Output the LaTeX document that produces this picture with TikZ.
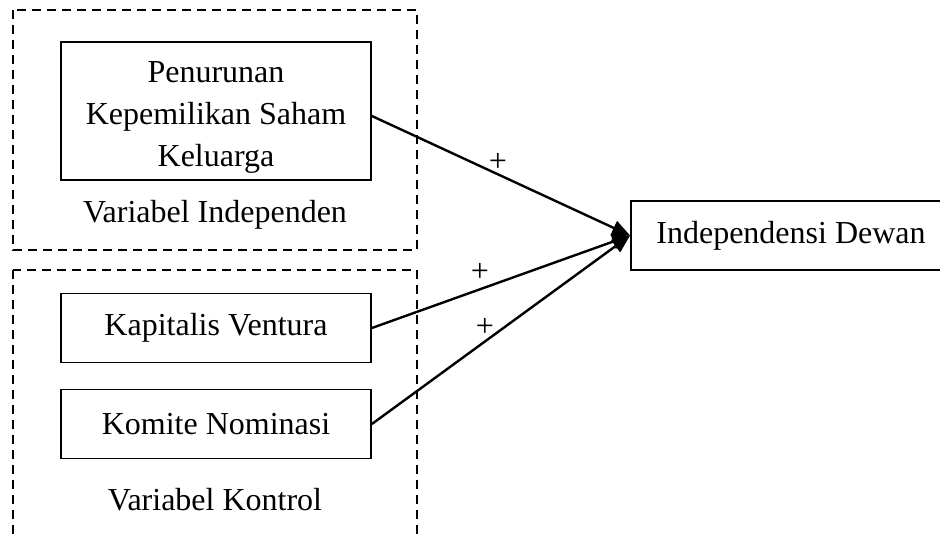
\documentclass[tikz,border=0pt]{standalone}
\usepackage{fontspec}
\setmainfont{Liberation Serif}
\usetikzlibrary{arrows.meta}
\begin{document}
\begin{tikzpicture}[x=1pt,y=-1pt,
  every node/.style={font=\fontsize{32}{42}\selectfont},
  varbox/.style={draw,line width=1.8pt,inner sep=0pt,align=center},
  groupbox/.style={draw,line width=1.4pt,dash pattern=on 9pt off 6pt},
  link/.style={line width=2.4pt,-{Triangle[length=18pt,width=15pt]}},
  sign/.style={inner sep=0pt}]
\useasboundingbox (0,0) rectangle (940,535);
\clip (0,0) rectangle (940,535);
\draw[groupbox] (13,10) rectangle (417,250);
\draw[groupbox] (13,270) rectangle (417,560);
\node[varbox,minimum width=310pt,minimum height=138pt] (pen) at (216,111) {};
\node[align=center,inner sep=0pt] (pentext) at ([yshift=-6pt]pen.center) {Penurunan\\Kepemilikan Saham\\Keluarga};
\node (lblind) at (215,215) {Variabel Independen};
\node[varbox,minimum width=310pt,minimum height=69pt] (kap) at (216,328) {Kapitalis Ventura};
\node[varbox,minimum width=310pt,minimum height=69pt] (kom) at (216,424) {Komite Nominasi};
\node (lblkon) at (215,500) {Variabel Kontrol};
\node[varbox,minimum width=320pt,minimum height=69pt] (ind) at (791,235.5) {Independensi Dewan};
\draw[link] ([yshift=-5pt]pen.east) -- (ind.west);
\draw[link] (kap.east) -- (ind.west);
\draw[link] (kom.east) -- (ind.west);
\node[sign] (p1) at (498,162) {+};
\node[sign] (p2) at (480,272) {+};
\node[sign] (p3) at (485,327) {+};
\end{tikzpicture}
\end{document}
